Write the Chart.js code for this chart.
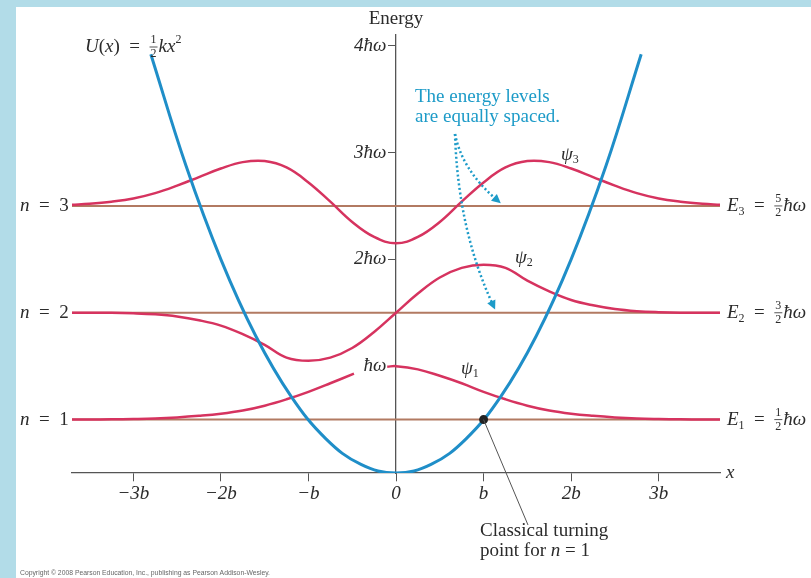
<!DOCTYPE html>
<html>
<head>
<meta charset="utf-8">
<script src="https://cdn.jsdelivr.net/npm/chart.js@4.4.0/dist/chart.umd.min.js"></script>
<style>
  html, body { margin: 0; padding: 0; background: #b2dce8; }
  canvas { display: block; }
</style>
</head>
<body>
<canvas id="grafica" width="811" height="578"></canvas>
<script>
// x en unidades de b, energia en unidades de ħω
const xs = [-3.7, -3.5, -3.25, -3, -2.75, -2.5, -2.25, -2, -1.75, -1.5, -1.25, -1, -0.75, -0.5, -0.25, 0,
            0.25, 0.5, 0.75, 1, 1.25, 1.5, 1.75, 2, 2.25, 2.5, 2.75, 3, 3.25, 3.5, 3.7];

const psi3 = [2.51, 2.52, 2.54, 2.57, 2.62, 2.69, 2.77, 2.85, 2.91, 2.92, 2.86, 2.72, 2.54, 2.35, 2.21, 2.15,
              2.21, 2.35, 2.54, 2.72, 2.86, 2.92, 2.91, 2.85, 2.77, 2.69, 2.62, 2.57, 2.54, 2.52, 2.51];

const psi2 = [1.5, 1.5, 1.5, 1.495, 1.485, 1.465, 1.43, 1.38, 1.30, 1.20, 1.08, 1.05, 1.08, 1.17, 1.32, 1.5,
              1.68, 1.83, 1.92, 1.95, 1.92, 1.80, 1.70, 1.62, 1.57, 1.535, 1.515, 1.505, 1.5, 1.5, 1.5];

// psi1 tiene un hueco para la etiqueta "ħω"
const psi1X = [-3.7, -3.5, -3.25, -3, -2.75, -2.5, -2.25, -2, -1.75, -1.5, -1.25, -1, -0.75, -0.48, -0.3, -0.1, 0,
               0.25, 0.5, 0.75, 1, 1.25, 1.5, 1.75, 2, 2.25, 2.5, 2.75, 3, 3.25, 3.5, 3.7];
const psi1 = [0.5, 0.5, 0.502, 0.505, 0.51, 0.52, 0.535, 0.555, 0.585, 0.63, 0.69, 0.76, 0.84, 0.93, null, 0.995, 1.0,
              0.97, 0.91, 0.84, 0.76, 0.69, 0.63, 0.585, 0.555, 0.535, 0.52, 0.51, 0.505, 0.502, 0.5, 0.5];

const parX = [-2.8, -2.4, -2, -1.6, -1.2, -0.8, -0.4, 0, 0.4, 0.8, 1.2, 1.6, 2, 2.4, 2.8];
const parY = [3.92, 2.88, 2.0, 1.28, 0.72, 0.32, 0.08, 0, 0.08, 0.32, 0.72, 1.28, 2.0, 2.88, 3.92];

const niveles = [0.5, 1.5, 2.5];
const rangoX = [-3.7, 3.7];
const puntoRetorno = [1, 0.5];

const xTicks = [-3, -2, -1, 0, 1, 2, 3];
const xTickLabels = ['\u22123b', '\u22122b', '\u2212b', '0', 'b', '2b', '3b'];
const yTicks = [1, 2, 3, 4];
const yTickLabels = ['ħω', '2ħω', '3ħω', '4ħω'];

const ROSA = '#d6335f';
const AZUL = '#1f8ec8';
const CAFE = '#b27a62';
const EJE = '#555555';
const SERIF = '"Liberation Serif", "DejaVu Serif", serif';

const pares = (xv, yv) => xv.map((x, i) => ({ x: x, y: yv[i] }));

// texto en trozos con estilos distintos: [texto, estilo, tamaño, dy]
function piezas(ctx, partes, x, y) {
    let cx = x;
    partes.forEach(p => {
        ctx.font = `${p[1]} ${p[2]}px ${SERIF}`;
        ctx.fillText(p[0], cx, y + (p[3] || 0));
        cx += ctx.measureText(p[0]).width;
    });
    return cx;
}

function fraccion(ctx, num, den, x, y) {
    ctx.font = `normal 12px ${SERIF}`;
    const w = Math.max(ctx.measureText(num).width, ctx.measureText(den).width) + 2;
    ctx.textAlign = 'center';
    ctx.fillText(num, x + w / 2, y - 7);
    ctx.fillText(den, x + w / 2, y + 7);
    ctx.textAlign = 'left';
    ctx.save();
    ctx.strokeStyle = ctx.fillStyle;
    ctx.lineWidth = 0.8;
    ctx.beginPath();
    ctx.moveTo(x, y);
    ctx.lineTo(x + w, y);
    ctx.stroke();
    ctx.restore();
    return x + w + 1;
}

function flechaPunteada(ctx, x0, y0, cx, cy, x1, y1) {
    ctx.save();
    ctx.strokeStyle = '#1d9bc8';
    ctx.fillStyle = '#1d9bc8';
    ctx.lineWidth = 2.5;
    ctx.setLineDash([2, 2.5]);
    ctx.beginPath();
    ctx.moveTo(x0, y0);
    ctx.quadraticCurveTo(cx, cy, x1, y1);
    ctx.stroke();
    ctx.setLineDash([]);
    const ang = Math.atan2(y1 - cy, x1 - cx);
    ctx.translate(x1, y1);
    ctx.rotate(ang);
    ctx.beginPath();
    ctx.moveTo(5, 0);
    ctx.lineTo(-4, -4.5);
    ctx.lineTo(-4, 4.5);
    ctx.closePath();
    ctx.fill();
    ctx.restore();
}

const fondo = {
    id: 'fondo',
    beforeDraw(chart) {
        const ctx = chart.ctx;
        ctx.save();
        ctx.fillStyle = '#b2dce8';
        ctx.fillRect(0, 0, chart.width, chart.height);
        ctx.fillStyle = '#ffffff';
        ctx.fillRect(16, 7, chart.width - 16, chart.height - 7);
        ctx.restore();
    }
};

const textos = {
    id: 'textos',
    afterDatasetsDraw(chart) {
        const ctx = chart.ctx;
        const sx = chart.scales.x, sy = chart.scales.y;
        ctx.save();
        ctx.textBaseline = 'middle';
        ctx.textAlign = 'left';
        ctx.fillStyle = '#2b2b2b';

        // linea guia del punto de retorno
        ctx.strokeStyle = '#555';
        ctx.lineWidth = 1;
        ctx.beginPath();
        ctx.moveTo(sx.getPixelForValue(puntoRetorno[0]), sy.getPixelForValue(puntoRetorno[1]));
        ctx.lineTo(528, 525);
        ctx.stroke();

        // etiquetas n = 1,2,3 y E_n
        const fr = [['1', '2'], ['3', '2'], ['5', '2']];
        niveles.forEach((e, i) => {
            const py = sy.getPixelForValue(e);
            piezas(ctx, [['n', 'italic', 19], ['\u2002=\u2002' + (i + 1), 'normal', 19]], 20, py);
            let cx = piezas(ctx, [['E', 'italic', 19], [String(i + 1), 'normal', 12, 6], ['\u2002=\u2002', 'normal', 19]], 727, py);
            cx = fraccion(ctx, fr[i][0], fr[i][1], cx, py);
            piezas(ctx, [['ħω', 'italic', 19]], cx, py);
        });

        // U(x) = 1/2 k x^2
        let ux = piezas(ctx, [['U', 'italic', 19], ['(', 'normal', 19], ['x', 'italic', 19], [')\u2002=\u2002', 'normal', 19]], 85, 47);
        ux = fraccion(ctx, '1', '2', ux, 47);
        piezas(ctx, [['kx', 'italic', 19], ['2', 'normal', 12, -7]], ux, 47);

        // titulo del eje y y nombre del eje x
        ctx.font = `normal 19px ${SERIF}`;
        ctx.textAlign = 'center';
        ctx.fillText('Energy', sx.getPixelForValue(0), 19);
        ctx.textAlign = 'left';
        piezas(ctx, [['x', 'italic', 19]], 726, sy.getPixelForValue(0));

        // psi
        piezas(ctx, [['ψ', 'italic', 19], ['3', 'normal', 12, 5]], 561, 155);
        piezas(ctx, [['ψ', 'italic', 19], ['2', 'normal', 12, 5]], 515, 258);
        piezas(ctx, [['ψ', 'italic', 19], ['1', 'normal', 12, 5]], 461, 369);

        // punto de retorno clasico
        ctx.font = `normal 19px ${SERIF}`;
        ctx.fillText('Classical turning', 480, 531);
        piezas(ctx, [['point for ', 'normal', 19], ['n', 'italic', 19], [' = 1', 'normal', 19]], 480, 551);

        // anotacion azul
        ctx.fillStyle = '#1d9bc8';
        ctx.font = `normal 19px ${SERIF}`;
        ctx.fillText('The energy levels', 415, 97);
        ctx.fillText('are equally spaced.', 415, 117);
        flechaPunteada(ctx, 455, 134, 462, 170, 497, 200);
        flechaPunteada(ctx, 455, 134, 458, 230, 493, 305);

        // copyright
        ctx.fillStyle = '#666';
        ctx.font = 'normal 6.8px "Liberation Sans", Arial, sans-serif';
        ctx.fillText('Copyright \u00a9 2008 Pearson Education, Inc., publishing as Pearson Addison-Wesley.', 20, 573);
        ctx.restore();
    }
};

const lienzo = document.getElementById('grafica');

new Chart(lienzo, {
    type: 'line',
    data: {
        datasets: [
            {
                label: 'Punto de retorno',
                data: [{ x: puntoRetorno[0], y: puntoRetorno[1] }],
                showLine: false,
                pointRadius: 4.5,
                pointBackgroundColor: '#222',
                pointBorderWidth: 0
            },
            {
                label: 'U(x)',
                data: pares(parX, parY),
                borderColor: AZUL,
                borderWidth: 3,
                pointRadius: 0,
                tension: 0.4
            },
            {
                label: 'psi3',
                data: pares(xs, psi3),
                borderColor: ROSA,
                borderWidth: 2.5,
                pointRadius: 0,
                tension: 0.4
            },
            {
                label: 'psi2',
                data: pares(xs, psi2),
                borderColor: ROSA,
                borderWidth: 2.5,
                pointRadius: 0,
                tension: 0.4
            },
            {
                label: 'psi1',
                data: pares(psi1X, psi1),
                borderColor: ROSA,
                borderWidth: 2.5,
                pointRadius: 0,
                tension: 0.4,
                spanGaps: false
            },
            ...niveles.map(e => ({
                label: 'E' + e,
                data: [{ x: rangoX[0], y: e }, { x: rangoX[1], y: e }],
                borderColor: CAFE,
                borderWidth: 2,
                pointRadius: 0
            }))
        ]
    },
    options: {
        responsive: false,
        animation: false,
        layout: {
            padding: { left: 72, right: 91, top: 35, bottom: 105 }
        },
        plugins: {
            legend: { display: false },
            tooltip: { enabled: false }
        },
        scales: {
            x: {
                type: 'linear',
                position: { y: 0 },
                min: rangoX[0],
                max: rangoX[1],
                afterBuildTicks: s => { s.ticks = xTicks.map(v => ({ value: v })); },
                ticks: {
                    callback: (v) => xTickLabels[xTicks.indexOf(v)],
                    color: '#2b2b2b',
                    font: { family: SERIF, size: 19, style: 'italic' },
                    padding: 2,
                    maxRotation: 0
                },
                grid: { drawOnChartArea: false, drawTicks: true, tickLength: 8, color: EJE },
                border: { color: EJE, width: 1.3 }
            },
            y: {
                type: 'linear',
                position: { x: 0 },
                min: 0,
                max: 4.1,
                afterBuildTicks: s => { s.ticks = yTicks.map(v => ({ value: v })); },
                ticks: {
                    // espacio final para separar la etiqueta del eje
                    callback: (v) => yTickLabels[yTicks.indexOf(v)] + '\u2002',
                    color: '#2b2b2b',
                    font: { family: SERIF, size: 19, style: 'italic' },
                    padding: 3
                },
                grid: { drawOnChartArea: false, drawTicks: true, tickLength: 7, color: EJE },
                border: { color: EJE, width: 1.3 }
            }
        }
    },
    plugins: [fondo, textos]
});
</script>
</body>
</html>
